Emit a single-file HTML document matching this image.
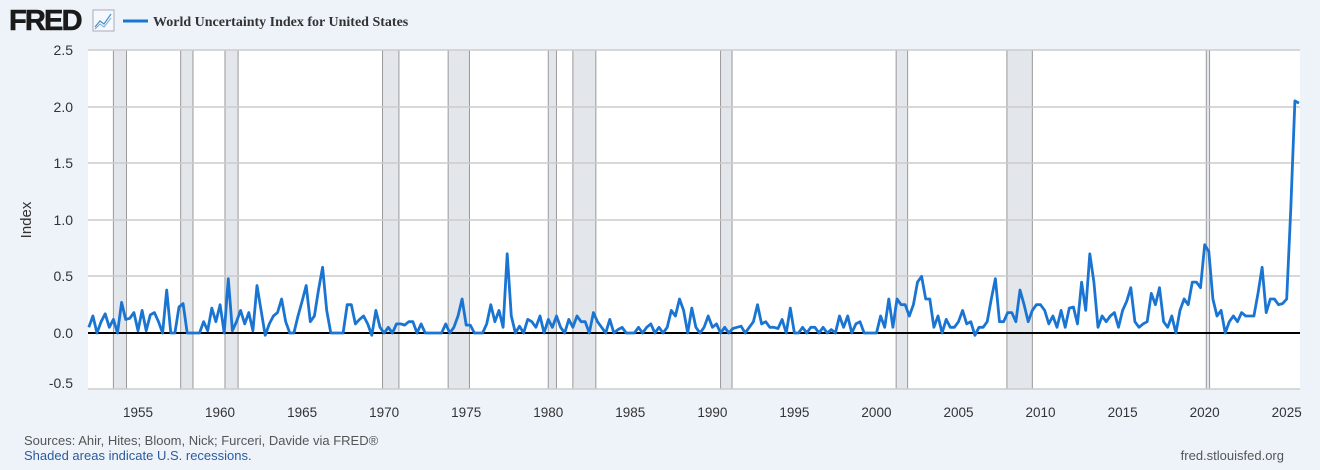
<!DOCTYPE html>
<html><head><meta charset="utf-8"><style>
body{margin:0;background:#eef3fa;width:1320px;height:465px;overflow:hidden;font-family:"Liberation Sans",sans-serif}
</style></head><body>
<svg width="1320" height="465" xmlns="http://www.w3.org/2000/svg">
<rect width="1320" height="465" fill="#eef3fa"/>
<text x="9" y="30" font-family="Liberation Sans" font-weight="bold" font-size="29" fill="#1a1a1a" letter-spacing="-1.8" stroke="#1a1a1a" stroke-width="0.6">FRED</text>
<rect x="93" y="10" width="21" height="21" fill="#f5f8fc" stroke="#aab" stroke-width="1"/>
<polyline points="95,27 100,21 104,24 111,14" fill="none" stroke="#4a90d0" stroke-width="1.2"/>
<polyline points="95,29 100,24 104,27 111,18" fill="none" stroke="#7ac" stroke-width="1"/>
<line x1="123" y1="21" x2="148" y2="21" stroke="#1a75d2" stroke-width="3"/>
<text x="153" y="26" font-family="Liberation Serif" font-weight="bold" font-size="14" fill="#333">World Uncertainty Index for United States</text>
<rect x="88" y="50" width="1212" height="339" fill="#fff"/>
<g id="rec" fill="#e3e6ea" stroke="#999" stroke-width="1"></g>
<g stroke="#ccc" stroke-width="1.5">
<line x1="88" x2="1300" y1="50" y2="50"/><line x1="88" x2="1300" y1="107" y2="107"/>
<line x1="88" x2="1300" y1="163" y2="163"/><line x1="88" x2="1300" y1="220" y2="220"/>
<line x1="88" x2="1300" y1="276" y2="276"/><line x1="88" x2="1300" y1="389" y2="389"/>
</g>
<line x1="88" x2="1300" y1="333" y2="333" stroke="#000" stroke-width="2"/>
<g font-size="14" fill="#333" text-anchor="end">
<text x="73" y="55">2.5</text><text x="73" y="112">2.0</text><text x="73" y="168">1.5</text>
<text x="73" y="225">1.0</text><text x="73" y="281">0.5</text><text x="73" y="338">0.0</text><text x="73" y="388">-0.5</text>
</g>
<text transform="translate(31,220) rotate(-90)" font-size="15" fill="#333" text-anchor="middle">Index</text>
<g id="xl" font-size="13.5" fill="#333" text-anchor="middle"></g>
<path id="ln" fill="none" stroke="#1a75d2" stroke-width="2.8" stroke-linejoin="round"/>
<text x="24" y="445" font-size="13" fill="#555">Sources: Ahir, Hites; Bloom, Nick; Furceri, Davide via FRED®</text>
<text x="24" y="460" font-size="13" fill="#2b5b9c">Shaded areas indicate U.S. recessions.</text>
<text x="1284" y="460" font-size="13" fill="#555" text-anchor="end">fred.stlouisfed.org</text>
</svg>
<script>
const X=y=>138+(y-1955)*16.41, Y=v=>333-v*113.2, NS="http://www.w3.org/2000/svg";
const rec=[[1953.5,1954.3],[1957.6,1958.35],[1960.3,1961.1],[1969.9,1970.9],[1973.9,1975.2],[1980.0,1980.5],[1981.5,1982.9],[1990.5,1991.2],[2001.2,2001.9],[2007.95,2009.5],[2020.1,2020.3]];
const g=document.getElementById('rec');
rec.forEach(r=>{const e=document.createElementNS(NS,'rect');e.setAttribute('x',X(r[0]));e.setAttribute('y',50);e.setAttribute('width',X(r[1])-X(r[0]));e.setAttribute('height',339);g.appendChild(e);});
const xl=document.getElementById('xl');
for(let y=1955;y<=2025;y+=5){const t=document.createElementNS(NS,'text');t.setAttribute('x',X(y));t.setAttribute('y',417);t.textContent=y;xl.appendChild(t);}
const d=[.05,.15,.0,.1,.17,.05,.12,.0,.27,.12,.13,.18,.02,.2,.02,.16,.18,.1,.0,.38,.0,.0,.23,.26,.0,-.0,.0,.0,.1,.02,.22,.1,.25,.0,.48,.02,.1,.2,.08,.18,.02,.42,.2,-.02,.08,.15,.18,.3,.1,.0,.0,.15,.28,.42,.1,.15,.38,.58,.2,.0,.0,.0,.0,.25,.25,.08,.12,.15,.08,-.02,.2,.05,.0,.05,.0,.08,.08,.07,.1,.1,.0,.08,.0,.0,.0,.0,.0,.08,.0,.05,.15,.3,.07,.07,.0,.0,.0,.08,.25,.1,.2,.05,.7,.15,.0,.06,.0,.12,.1,.05,.15,.0,.12,.05,.15,.05,.0,.12,.05,.15,.1,.1,.0,.18,.1,.05,.0,.12,.0,.03,.05,.0,.0,.0,.05,.0,.05,.08,.0,.05,.0,.05,.2,.15,.3,.2,.0,.22,.05,.0,.05,.15,.05,.08,.0,.05,.0,.04,.05,.06,.0,.05,.1,.25,.08,.1,.05,.05,.04,.12,.0,.22,.0,.0,.05,.0,.05,.05,.0,.05,.0,.03,.0,.15,.05,.15,.0,.08,.1,.0,.0,.0,.0,.15,.05,.3,.05,.3,.25,.25,.15,.25,.45,.5,.3,.3,.05,.15,.0,.12,.05,.05,.1,.2,.08,.1,-.02,.05,.05,.1,.3,.48,.1,.1,.18,.18,.1,.38,.25,.1,.2,.25,.25,.2,.08,.15,.05,.2,.05,.22,.23,.08,.45,.2,.7,.45,.05,.15,.1,.15,.18,.05,.2,.28,.4,.1,.05,.08,.1,.35,.25,.4,.1,.05,.15,.0,.2,.3,.25,.45,.45,.4,.78,.72,.3,.15,.2,.0,.1,.15,.1,.18,.15,.15,.15,.35,.58,.18,.3,.3,.25,.26,.3,1.1,2.05,2.03];
document.getElementById('ln').setAttribute('d',d.map((v,i)=>(i?'L':'M')+X(1952+i*0.25).toFixed(1)+','+Y(v).toFixed(1)).join(''));
</script>
</body></html>
